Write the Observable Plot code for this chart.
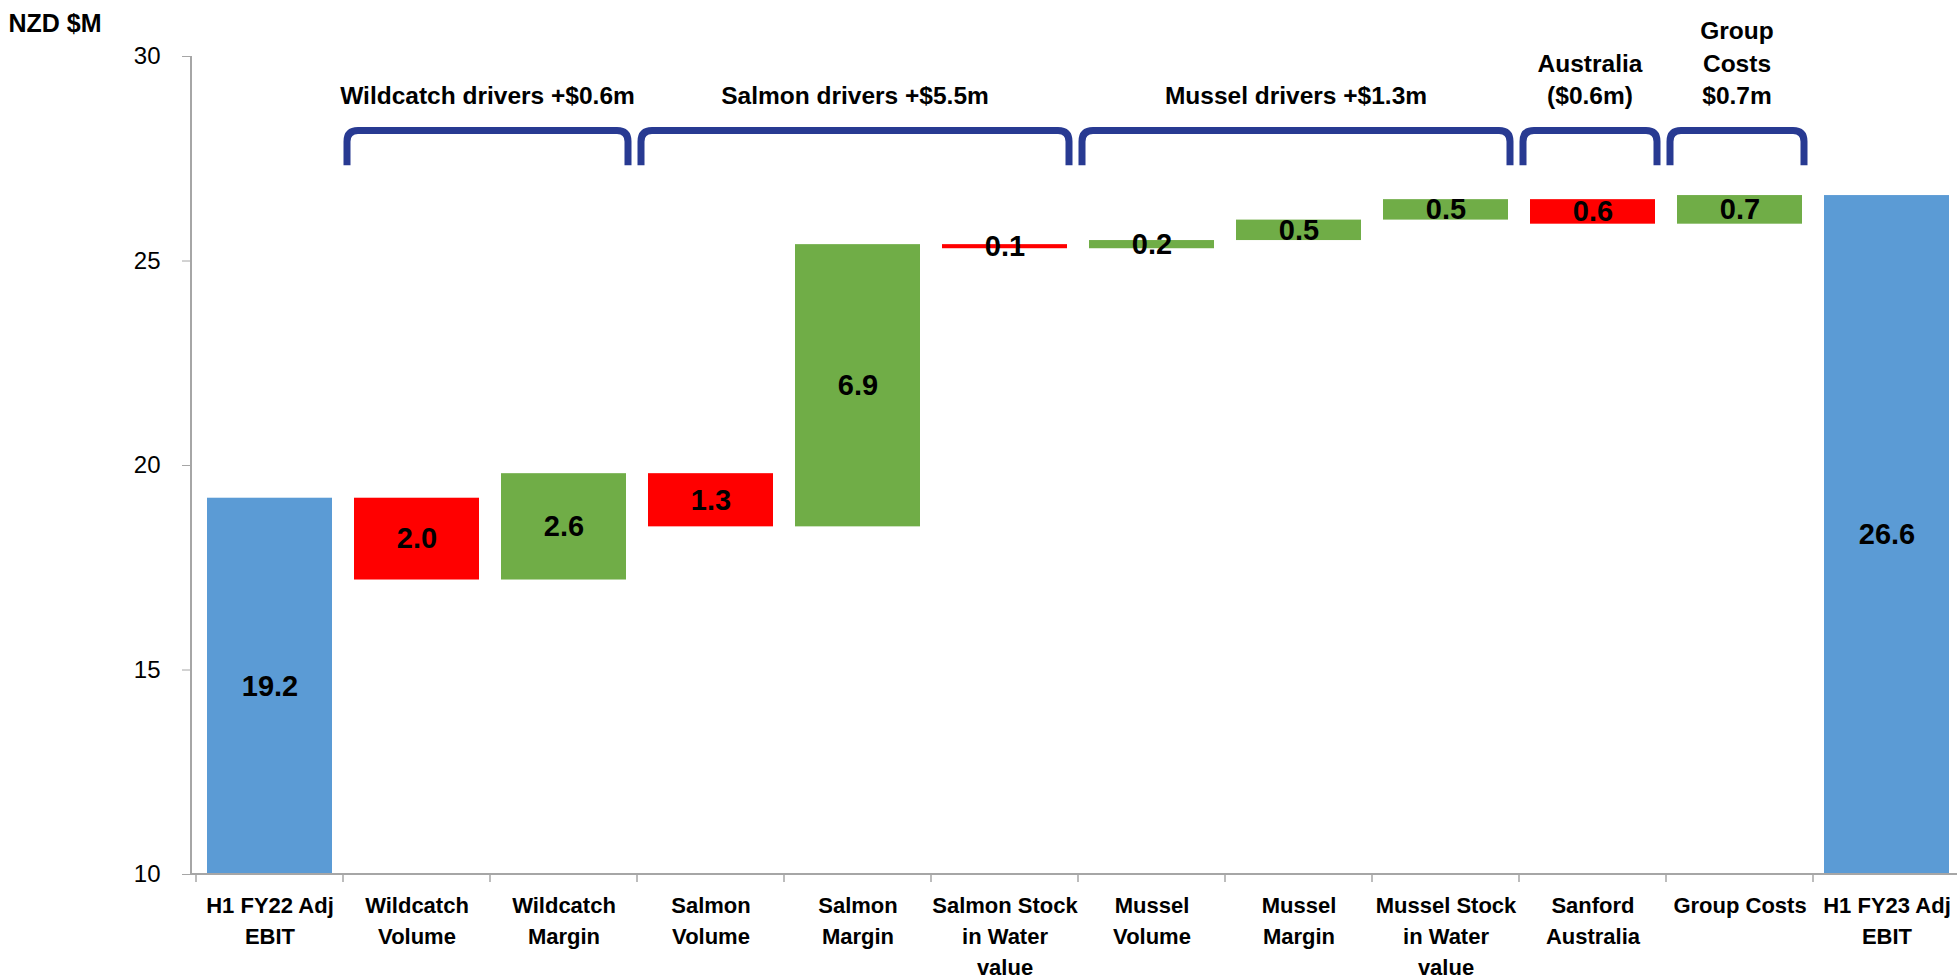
<!DOCTYPE html>
<html>
<head>
<meta charset="utf-8">
<script src="https://cdn.jsdelivr.net/npm/d3@7"></script>
<script src="https://cdn.jsdelivr.net/npm/@observablehq/plot@0.6"></script>
<style>
  html, body { margin: 0; padding: 0; background: #fff; overflow: hidden; }
</style>
</head>
<body>
<div id="chart"></div>
<script>
// EBIT bridge, H1 FY22 -> H1 FY23 (NZD $M)
const categories = [
  "H1 FY22 Adj EBIT", "Wildcatch Volume", "Wildcatch Margin", "Salmon Volume",
  "Salmon Margin", "Salmon Stock in Water value", "Mussel Volume", "Mussel Margin",
  "Mussel Stock in Water value", "Sanford Australia", "Group Costs", "H1 FY23 Adj EBIT"
];
const tickLabels = [
  "H1 FY22 Adj\nEBIT", "Wildcatch\nVolume", "Wildcatch\nMargin", "Salmon\nVolume",
  "Salmon\nMargin", "Salmon Stock\nin Water\nvalue", "Mussel\nVolume", "Mussel\nMargin",
  "Mussel Stock\nin Water\nvalue", "Sanford\nAustralia", "Group Costs", "H1 FY23 Adj\nEBIT"
];
const values = [19.2, -2.0, 2.6, -1.3, 6.9, -0.1, 0.2, 0.5, 0.5, -0.6, 0.7, 26.6];
const isTotal = [true, false, false, false, false, false, false, false, false, false, false, true];
const yTicks = [10, 15, 20, 25, 30];

// driver groups shown with brackets above the bars
const groupLabels = ["Wildcatch drivers +$0.6m", "Salmon drivers +$5.5m", "Mussel drivers +$1.3m", "Australia\n($0.6m)", "Group\nCosts\n$0.7m"];
const groupFirst = ["Wildcatch Volume", "Salmon Volume", "Mussel Volume", "Sanford Australia", "Group Costs"];
const groupLast = ["Wildcatch Margin", "Salmon Stock in Water value", "Mussel Stock in Water value", "Sanford Australia", "Group Costs"];

const Y_MIN = 10, Y_MAX = 30;
const BRACKET_TOP = 28.18, BRACKET_FOOT = 27.33, GROUP_LABEL_Y = 28.83;
const BLUE = "#5B9BD5", GREEN = "#70AD47", RED = "#FF0000", NAVY = "#283A92", AXIS = "#A6A6A6";
const FONT = "'Liberation Sans', Arial, sans-serif";

// running totals for the floating bars
let running = 0;
const rows = categories.map((c, i) => {
  let y1, y2;
  if (isTotal[i]) { y1 = Y_MIN; y2 = values[i]; running = values[i]; }
  else { y1 = running; y2 = running + values[i]; running = y2; }
  return {
    category: c,
    y1, y2,
    mid: (y1 + y2) / 2,
    text: Math.abs(values[i]).toFixed(1),
    color: isTotal[i] ? BLUE : values[i] < 0 ? RED : GREEN
  };
});

const groups = groupLabels.map((label, i) => ({label, first: groupFirst[i], last: groupLast[i]}));

// axis lines, category separators and driver brackets, positioned from the scales
function decorations(index, scales, vals, dims) {
  const {x, y} = scales;
  const bw = x.bandwidth ? x.bandwidth() : (dims.width - dims.marginLeft - dims.marginRight) / categories.length;
  const g = d3.create("svg:g");
  const left = dims.marginLeft, right = dims.width - dims.marginRight;
  const base = y(Y_MIN);

  // category separators below the baseline
  categories.forEach((c) => {
    g.append("line")
      .attr("x1", x(c)).attr("x2", x(c))
      .attr("y1", base).attr("y2", base + 8)
      .attr("stroke", AXIS).attr("stroke-width", 1.5);
  });
  // baseline and vertical axis
  g.append("line").attr("x1", left).attr("x2", right).attr("y1", base).attr("y2", base)
    .attr("stroke", AXIS).attr("stroke-width", 2);
  g.append("line").attr("x1", left).attr("x2", left).attr("y1", y(Y_MAX)).attr("y2", base)
    .attr("stroke", AXIS).attr("stroke-width", 2);

  // brackets and their captions
  const insetL = 4, insetR = 9, r = 11;
  const yt = y(BRACKET_TOP), yb = y(BRACKET_FOOT);
  groups.forEach((gr) => {
    const x0 = x(gr.first) + insetL;
    const x1 = x(gr.last) + bw - insetR;
    g.append("path")
      .attr("d", `M${x0},${yb}L${x0},${yt + r}Q${x0},${yt} ${x0 + r},${yt}L${x1 - r},${yt}Q${x1},${yt} ${x1},${yt + r}L${x1},${yb}`)
      .attr("fill", "none").attr("stroke", NAVY).attr("stroke-width", 7);
    const lines = gr.label.split("\n");
    const t = g.append("text")
      .attr("x", (x0 + x1) / 2).attr("y", y(GROUP_LABEL_Y))
      .attr("text-anchor", "middle")
      .attr("font-family", FONT).attr("font-weight", "bold").attr("font-size", 24.5)
      .attr("fill", "#000");
    lines.forEach((ln, k) => {
      t.append("tspan")
        .attr("x", (x0 + x1) / 2)
        .attr("dy", k === 0 ? `${-(lines.length - 1) * 1.32}em` : "1.32em")
        .text(ln);
    });
  });
  return g.node();
}

const chart = Plot.plot({
  width: 1957,
  height: 979,
  marginLeft: 191,
  marginRight: -7,
  marginTop: 56,
  marginBottom: 105,
  style: {fontFamily: FONT, background: "#fff", color: "#000"},
  x: {domain: categories, padding: 0, axis: null},
  y: {domain: [Y_MIN, Y_MAX], axis: null},
  color: {type: "identity"},
  marks: [
    Plot.barY(rows, {x: "category", y1: "y1", y2: "y2", fill: "color", insetLeft: 11, insetRight: 11, clip: true}),
    Plot.text(rows, {x: "category", y: "mid", text: "text", fontSize: 29, fontWeight: "bold", fill: "#000"}),
    Plot.axisY({ticks: yTicks, tickSize: 9, tickPadding: 22, fontSize: 24, stroke: AXIS, fill: "#000", label: null, tickFormat: d => d}),
    Plot.text(categories, {x: d => d, text: (d, i) => tickLabels[i], frameAnchor: "bottom", lineAnchor: "top", dy: 17, fontSize: 22, fontWeight: "bold", lineHeight: 1.4, fill: "#000"}),
    Plot.text(["NZD $M"], {frameAnchor: "top-left", dx: -183, dy: -25, text: d => d, textAnchor: "start", lineAnchor: "bottom", fontSize: 25, fontWeight: "bold", fill: "#000"}),
    decorations
  ]
});

document.getElementById("chart").appendChild(chart);
</script>
</body>
</html>
